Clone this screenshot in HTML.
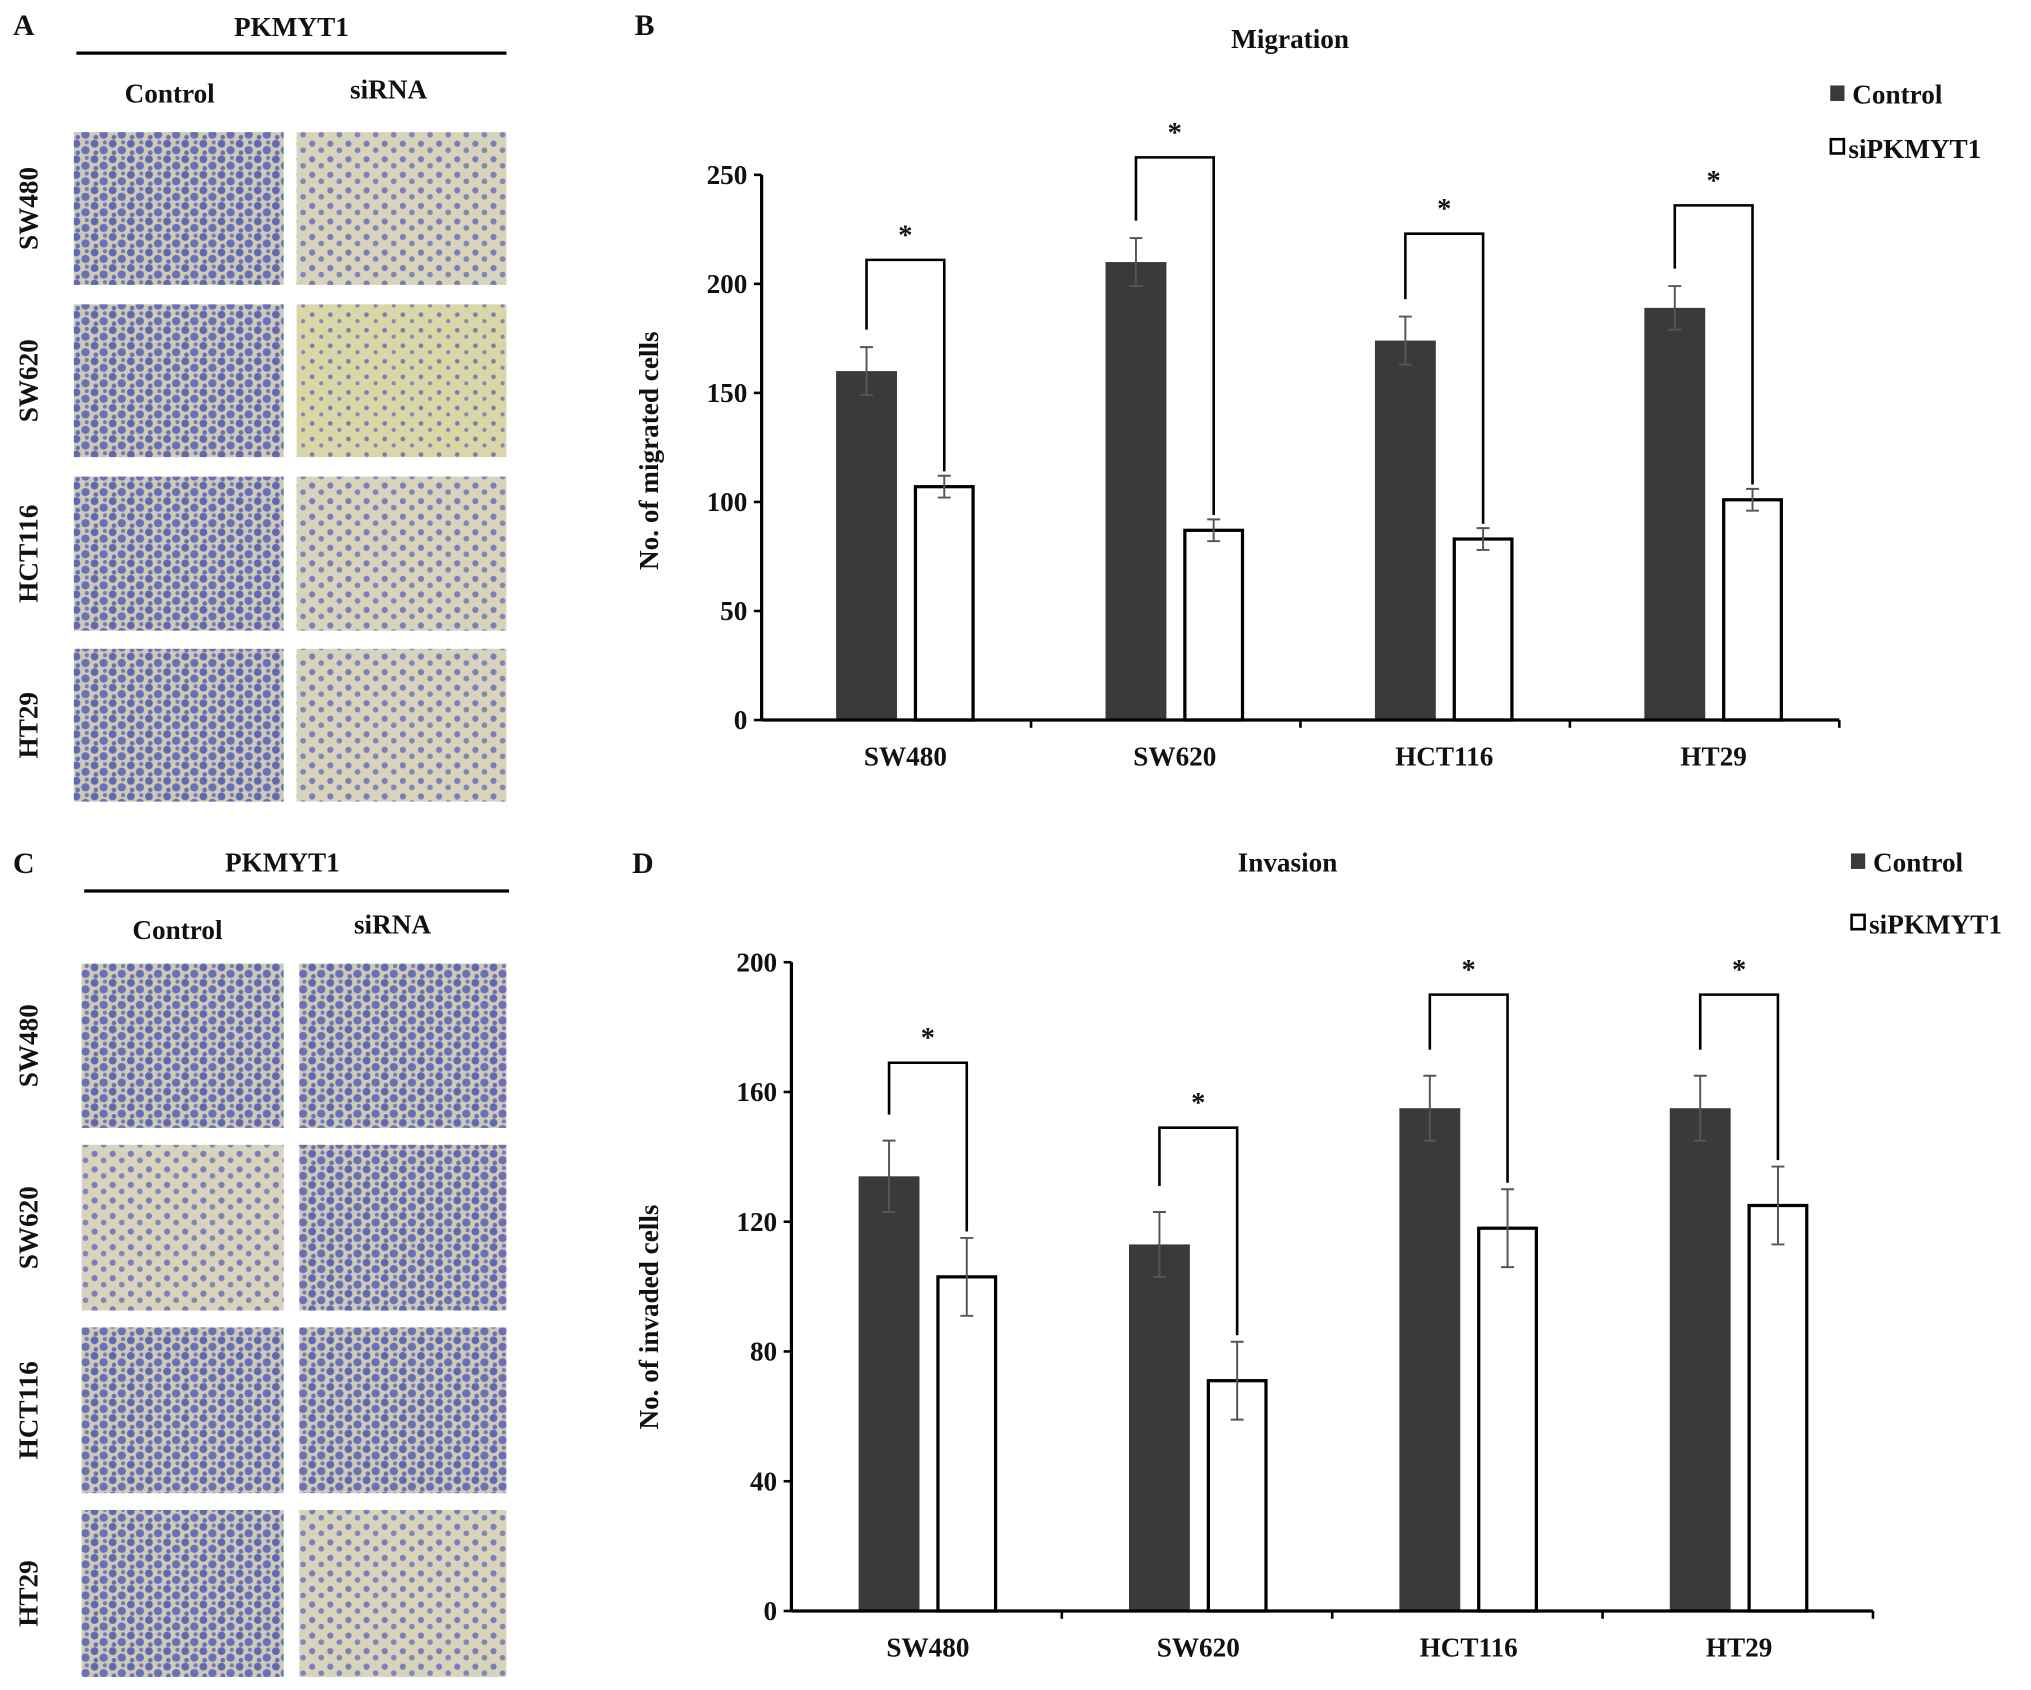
<!DOCTYPE html>
<html><head><meta charset="utf-8"><title>PKMYT1 migration and invasion</title>
<style>
html,body{margin:0;padding:0;background:#fff;width:2031px;height:1690px;overflow:hidden}
svg{display:block}
text{font-family:"Liberation Serif",serif;font-weight:bold;fill:#111}
</style></head>
<body>
<svg id="fig" width="2031" height="1690" viewBox="0 0 1568 1305" preserveAspectRatio="none" xmlns="http://www.w3.org/2000/svg">
<defs>
<pattern id="dense" width="14" height="12" patternUnits="userSpaceOnUse">
<rect width="14" height="12" fill="#cfcab8"/>
<circle cx="3" cy="3" r="3" fill="#5f68b0"/><circle cx="10" cy="8" r="3.2" fill="#6a70b8"/><circle cx="11" cy="2" r="1.6" fill="#7379b8"/><circle cx="4" cy="10" r="1.8" fill="#6a70b0"/>
</pattern>
<pattern id="sparse" width="14" height="12" patternUnits="userSpaceOnUse">
<rect width="14" height="12" fill="#d8d4bc"/>
<circle cx="3" cy="3" r="2.4" fill="#7a7fb8"/><circle cx="10" cy="8" r="2.2" fill="#8186ba"/>
</pattern>
<pattern id="yellow" width="14" height="12" patternUnits="userSpaceOnUse">
<rect width="14" height="12" fill="#d9d6a8"/>
<circle cx="3" cy="3" r="1.8" fill="#7b7fa8"/><circle cx="10" cy="8" r="1.6" fill="#8587ac"/>
</pattern>
</defs>

<!-- Panel A -->
<text x="10" y="27" font-size="23">A</text>
<text x="225" y="28" font-size="21" text-anchor="middle">PKMYT1</text>
<line x1="59" y1="41" x2="391" y2="41" stroke="#000" stroke-width="2.5"/>
<text x="131" y="79" font-size="21" text-anchor="middle">Control</text>
<text x="300" y="76" font-size="21" text-anchor="middle">siRNA</text>
<g id="tilesA"></g>

<!-- Panel C -->
<text x="10" y="674" font-size="23">C</text>
<text x="218" y="673" font-size="21" text-anchor="middle">PKMYT1</text>
<line x1="65" y1="688" x2="393" y2="688" stroke="#000" stroke-width="2.5"/>
<text x="137" y="725" font-size="21" text-anchor="middle">Control</text>
<text x="303" y="721" font-size="21" text-anchor="middle">siRNA</text>
<g id="tilesC"></g>

<!-- Panel B -->
<text x="490" y="27" font-size="23">B</text>
<text x="996" y="37" font-size="21" text-anchor="middle">Migration</text>
<rect x="1413" y="66" width="11" height="12" fill="#3a3a3a"/>
<text x="1430" y="80" font-size="21">Control</text>
<rect x="1413.5" y="107.5" width="10" height="11" fill="#fff" stroke="#000" stroke-width="2"/>
<text x="1427" y="122" font-size="21">siPKMYT1</text>
<text transform="translate(508,348) rotate(-90)" font-size="21" text-anchor="middle">No. of migrated cells</text>
<g id="chartB"></g>

<!-- Panel D -->
<text x="488" y="674" font-size="23">D</text>
<text x="994" y="673" font-size="21" text-anchor="middle">Invasion</text>
<rect x="1429" y="659" width="11" height="12" fill="#3a3a3a"/>
<text x="1446" y="673" font-size="21">Control</text>
<rect x="1429.5" y="706.5" width="10" height="11" fill="#fff" stroke="#000" stroke-width="2"/>
<text x="1443" y="721" font-size="21">siPKMYT1</text>
<text transform="translate(508,1017) rotate(-90)" font-size="21" text-anchor="middle">No. of invaded cells</text>
<g id="chartD"></g>
</svg>
<script>
const categories = ["SW480", "SW620", "HCT116", "HT29"];
const migControl = [160, 210, 174, 189];
const migControlErr = [11, 11, 11, 10];
const migSi = [107, 87, 83, 101];
const migSiErr = [5, 5, 5, 5];
const migBracket = [211, 258, 223, 236];
const migTicks = [0, 50, 100, 150, 200, 250];
const invControl = [134, 113, 155, 155];
const invControlErr = [11, 10, 10, 10];
const invSi = [103, 71, 118, 125];
const invSiErr = [12, 12, 12, 12];
const invBracket = [169, 149, 190, 190];
const invTicks = [0, 40, 80, 120, 160, 200];

const NS = "http://www.w3.org/2000/svg";
function mk(tag, attrs, parent) {
  const e = document.createElementNS(NS, tag);
  for (const k in attrs) e.setAttribute(k, attrs[k]);
  parent.appendChild(e);
  return e;
}

function drawTiles(gid, cols, rows, patterns, prefix) {
  const g = document.getElementById(gid);
  rows.forEach((r, ri) => {
    const lab = mk("text", {transform: "translate(29," + ((r[0] + r[1]) / 2) + ") rotate(-90)", "font-size": 21, "text-anchor": "middle"}, g);
    lab.textContent = categories[ri];
    
    
    cols.forEach((c, ci) => {
      const t = mk("rect", {x: c[0], y: r[0], width: c[1] - c[0], height: r[1] - r[0], fill: "url(#" + patterns[ri][ci] + ")"}, g);
      
      
    });
  });
}
drawTiles("tilesA", [[57, 219], [229, 391]], [[102, 220], [235, 353], [368, 487], [501, 619]],
  [["dense", "sparse"], ["dense", "yellow"], ["dense", "sparse"], ["dense", "sparse"]], "panel-a");
drawTiles("tilesC", [[63, 219], [231, 391]], [[744, 871], [884, 1012], [1025, 1153], [1166, 1295]],
  [["dense", "dense"], ["sparse", "dense"], ["dense", "dense"], ["dense", "sparse"]], "panel-c");

function drawChart(gid, o) {
  const g = document.getElementById(gid);
  const ymax = o.ticks[o.ticks.length - 1];
  const y = v => o.y0 - v / ymax * (o.y0 - o.yTop);
  const step = (o.x1 - o.x0) / categories.length;
  const cx = i => o.x0 + step * (i + 0.5) + o.shift;
  const bw = 47, gap = 13;
  const ya = mk("line", {x1: o.x0, y1: o.yTop, x2: o.x0, y2: o.y0, stroke: "#000", "stroke-width": 2.5}, g);
  
  
  o.ticks.forEach(t => {
    const tl = mk("line", {x1: o.x0 - 6, y1: y(t), x2: o.x0, y2: y(t), stroke: "#000", "stroke-width": 2}, g);
    
    
    const tx = mk("text", {x: o.x0 - 11, y: y(t) + 7, "font-size": 21, "text-anchor": "end"}, g);
    tx.textContent = t;
    
    
  });
  categories.forEach((c, i) => {
    const xc = cx(i);
    const xa = xc - gap / 2 - bw, xb = xc + gap / 2;
    const b1 = mk("rect", {x: xa, y: y(o.ctrl[i]), width: bw, height: o.y0 - y(o.ctrl[i]), fill: "#3a3a3a"}, g);
    
    
    const b2 = mk("rect", {x: xb + 1.25, y: y(o.si[i]), width: bw - 2.5, height: o.y0 - y(o.si[i]), fill: "#fff", stroke: "#000", "stroke-width": 2.5}, g);
    
    
    [[xa + bw / 2, o.ctrl[i], o.ctrlErr[i]], [xb + bw / 2, o.si[i], o.siErr[i]]].forEach(e => {
      const eb = mk("path", {d: "M" + e[0] + "," + y(e[1] + e[2]) + "V" + y(e[1] - e[2]) + "M" + (e[0] - 5) + "," + y(e[1] + e[2]) + "h10M" + (e[0] - 5) + "," + y(e[1] - e[2]) + "h10", stroke: "#555", "stroke-width": 1.5, fill: "none"}, g);
      
      
    });
    const lx = xa + bw / 2, rx = xb + bw / 2;
    const br = mk("path", {d: "M" + lx + "," + y(o.ctrl[i] + o.ctrlErr[i] + 8) + "V" + y(o.br[i]) + "H" + rx + "V" + y(o.si[i] + o.siErr[i] + 2), stroke: "#000", "stroke-width": 2, fill: "none"}, g);
    
    
    const st = mk("text", {x: (lx + rx) / 2, y: y(o.br[i]) - 12, "font-size": 22, "text-anchor": "middle"}, g);
    st.textContent = "*";
    
    
    const cl = mk("text", {x: xc, y: o.y0 + 35, "font-size": 21, "text-anchor": "middle"}, g);
    cl.textContent = c;
    
    
  });
  const xa2 = mk("line", {x1: o.x0, y1: o.y0, x2: o.x1, y2: o.y0, stroke: "#000", "stroke-width": 2.5}, g);
  
  
  for (let i = 1; i <= categories.length; i++) {
    const xt = mk("line", {x1: o.x0 + step * i, y1: o.y0, x2: o.x0 + step * i, y2: o.y0 + 6, stroke: "#000", "stroke-width": 2}, g);
    
    
  }
}
drawChart("chartB", {x0: 588, x1: 1420, y0: 556, yTop: 135, shift: 7, ticks: migTicks, ctrl: migControl, ctrlErr: migControlErr, si: migSi, siErr: migSiErr, br: migBracket});
drawChart("chartD", {x0: 611, x1: 1446, y0: 1244, yTop: 743, shift: 1, ticks: invTicks, ctrl: invControl, ctrlErr: invControlErr, si: invSi, siErr: invSiErr, br: invBracket});
</script>
</body></html>
